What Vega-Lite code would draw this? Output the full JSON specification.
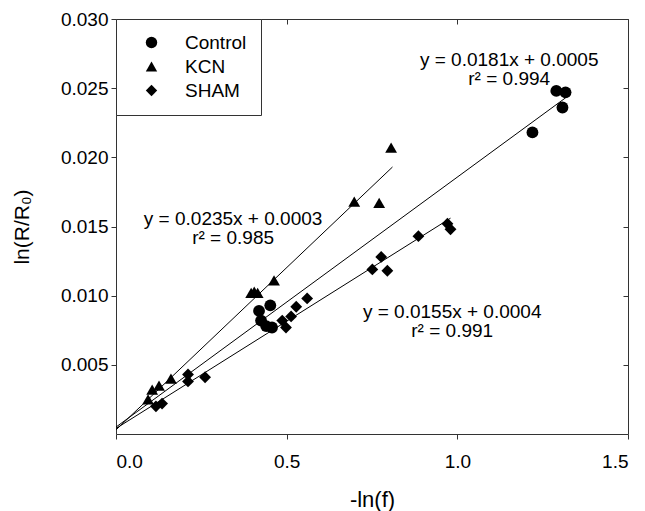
{
  "$schema": "https://vega.github.io/schema/vega-lite/v6.json",
  "width": 512,
  "height": 415,
  "padding": {"left": 11, "top": 10, "right": 5, "bottom": 5},
  "background": "white",
  "config": {
    "font": "Liberation Sans",
    "view": {"stroke": null},
    "axis": {"grid": false, "domainColor": "#333", "tickColor": "#333", "labelColor": "black", "titleColor": "black", "labelFont": "Liberation Sans", "titleFont": "Liberation Sans", "titleFontWeight": "normal"}
  },
  "datasets": {
    "pts": [
      {"group": "Control", "x": 1.290, "y": 0.0248},
      {"group": "Control", "x": 1.317, "y": 0.0247},
      {"group": "Control", "x": 1.308, "y": 0.0236},
      {"group": "Control", "x": 1.220, "y": 0.0218},
      {"group": "Control", "x": 0.419, "y": 0.0089},
      {"group": "Control", "x": 0.452, "y": 0.0093},
      {"group": "Control", "x": 0.425, "y": 0.0082},
      {"group": "Control", "x": 0.440, "y": 0.0078},
      {"group": "Control", "x": 0.457, "y": 0.0077},
      {"group": "KCN", "x": 0.806, "y": 0.0207},
      {"group": "KCN", "x": 0.698, "y": 0.0168},
      {"group": "KCN", "x": 0.771, "y": 0.0167},
      {"group": "KCN", "x": 0.463, "y": 0.0111},
      {"group": "KCN", "x": 0.405, "y": 0.0103},
      {"group": "KCN", "x": 0.396, "y": 0.0102},
      {"group": "KCN", "x": 0.415, "y": 0.0102},
      {"group": "KCN", "x": 0.161, "y": 0.0040},
      {"group": "KCN", "x": 0.126, "y": 0.0035},
      {"group": "KCN", "x": 0.106, "y": 0.0032},
      {"group": "KCN", "x": 0.094, "y": 0.0025},
      {"group": "SHAM", "x": 0.971, "y": 0.0152},
      {"group": "SHAM", "x": 0.980, "y": 0.0148},
      {"group": "SHAM", "x": 0.886, "y": 0.0143},
      {"group": "SHAM", "x": 0.777, "y": 0.0128},
      {"group": "SHAM", "x": 0.751, "y": 0.0119},
      {"group": "SHAM", "x": 0.795, "y": 0.0118},
      {"group": "SHAM", "x": 0.560, "y": 0.0098},
      {"group": "SHAM", "x": 0.528, "y": 0.0092},
      {"group": "SHAM", "x": 0.513, "y": 0.0085},
      {"group": "SHAM", "x": 0.487, "y": 0.0082},
      {"group": "SHAM", "x": 0.498, "y": 0.0077},
      {"group": "SHAM", "x": 0.211, "y": 0.0043},
      {"group": "SHAM", "x": 0.211, "y": 0.0038},
      {"group": "SHAM", "x": 0.261, "y": 0.0041},
      {"group": "SHAM", "x": 0.117, "y": 0.0020},
      {"group": "SHAM", "x": 0.135, "y": 0.0022}
    ],
    "fits": [
      {"group": "Control", "x": 0, "y": 0.0005},
      {"group": "Control", "x": 1.317, "y": 0.0243},
      {"group": "KCN", "x": 0, "y": 0.0003},
      {"group": "KCN", "x": 0.81, "y": 0.0193},
      {"group": "SHAM", "x": 0, "y": 0.0004},
      {"group": "SHAM", "x": 0.98, "y": 0.0156}
    ],
    "notes": [
      {"text": "y = 0.0181x + 0.0005\nr² = 0.994", "x": 1.152, "y": 0.02704},
      {"text": "y = 0.0235x + 0.0003\nr² = 0.985", "x": 0.343, "y": 0.01554},
      {"text": "y = 0.0155x + 0.0004\nr² = 0.991", "x": 0.985, "y": 0.00882}
    ]
  },
  "layer": [
    {
      "data": {"name": "fits"},
      "mark": {"type": "line", "color": "black", "strokeWidth": 1},
      "encoding": {
        "x": {"field": "x", "type": "quantitative", "scale": {"domain": [0, 1.5], "nice": false},
          "axis": {"orient": "bottom", "values": [0, 0.5, 1, 1.5], "format": ".1f", "labelFontSize": 19, "title": "-ln(f)", "titleFontSize": 22, "tickSize": 5, "labelPadding": 13, "titlePadding": 18}},
        "y": {"field": "y", "type": "quantitative", "scale": {"domain": [0, 0.03], "nice": false},
          "axis": {"orient": "left", "values": [0.005, 0.01, 0.015, 0.02, 0.025, 0.03], "format": ".3f", "labelFontSize": 19, "title": "ln(R/R₀)", "titleFontSize": 21, "tickSize": 5, "labelPadding": 3, "titlePadding": 28}},
        "detail": {"field": "group"}
      }
    },
    {
      "data": {"name": "pts"},
      "mark": {"type": "point", "filled": true, "color": "black", "opacity": 1, "size": 140},
      "encoding": {
        "x": {"field": "x", "type": "quantitative", "axis": null},
        "y": {"field": "y", "type": "quantitative", "axis": null},
        "shape": {"field": "group", "type": "nominal",
          "scale": {"domain": ["Control", "KCN", "SHAM"], "range": ["circle", "triangle-up", "diamond"]},
          "legend": {"title": null, "orient": "top-left", "offset": 0, "strokeColor": "#333", "fillColor": "white", "padding": 14, "symbolOffset": 12, "labelFontSize": 19, "labelOffset": 24, "symbolSize": 130, "symbolFillColor": "black", "symbolStrokeColor": "black", "symbolOpacity": 1, "rowPadding": 4, "labelFont": "Liberation Sans", "labelColor": "black"}}
      }
    },
    {
      "data": {"name": "notes"},
      "mark": {"type": "text", "align": "center", "baseline": "middle", "fontSize": 19, "lineHeight": 19, "lineBreak": "\n", "color": "black"},
      "encoding": {
        "x": {"field": "x", "type": "quantitative", "axis": null},
        "y": {"field": "y", "type": "quantitative", "axis": null},
        "text": {"field": "text"}
      }
    },
    {
      "data": {"name": "fits"},
      "mark": {"type": "point", "opacity": 0},
      "encoding": {
        "x": {"field": "x", "type": "quantitative",
          "axis": {"orient": "top", "values": [0, 0.5, 1, 1.5], "labels": false, "title": null, "tickSize": -5}},
        "y": {"field": "y", "type": "quantitative",
          "axis": {"orient": "right", "values": [0.005, 0.01, 0.015, 0.02, 0.025, 0.03], "labels": false, "title": null, "tickSize": -5}}
      }
    }
  ],
  "resolve": {"axis": {"x": "independent", "y": "independent"}}
}
